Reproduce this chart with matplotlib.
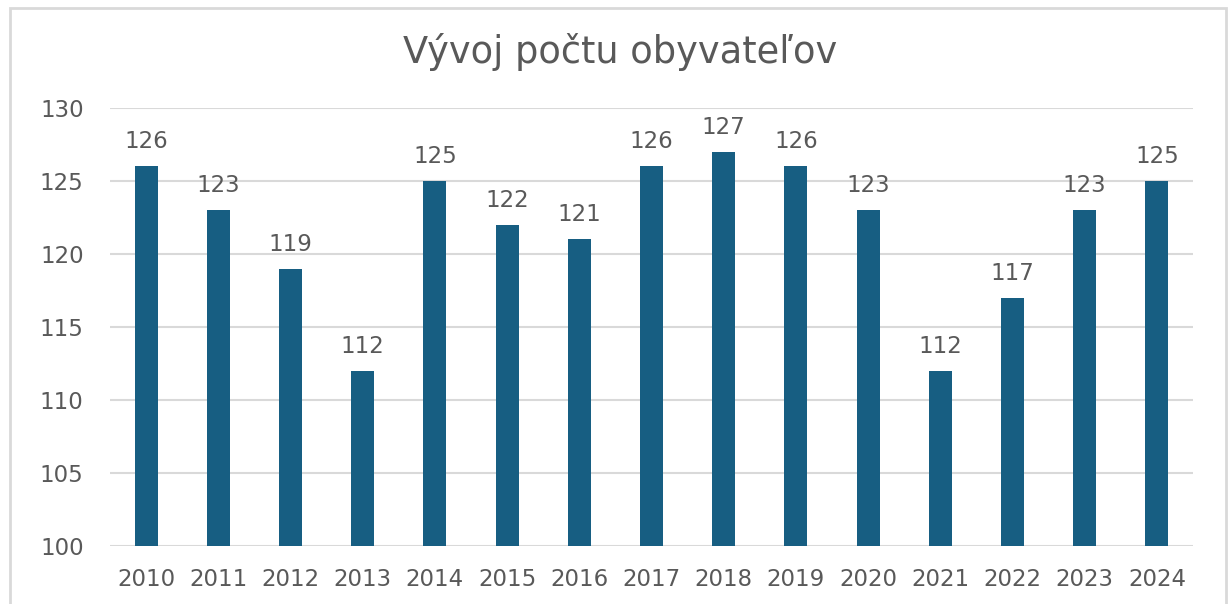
import matplotlib
matplotlib.use("Agg")
import matplotlib.pyplot as plt
from matplotlib.patches import Rectangle

years = ["2010", "2011", "2012", "2013", "2014", "2015", "2016", "2017",
         "2018", "2019", "2020", "2021", "2022", "2023", "2024"]
values = [126, 123, 119, 112, 125, 122, 121, 126, 127, 126, 123, 112, 117, 123, 125]
yticks = [100, 105, 110, 115, 120, 125, 130]

plt.rcParams['font.family'] = ['DejaVu Sans']
W, H = 1230, 604
fig = plt.figure(figsize=(W / 100, H / 100), dpi=100)
ax = fig.add_axes([110 / W, 1 - 546 / H, (1193 - 110) / W, (546 - 108) / H])

bar_color = "#175E82"
text_color = "#595959"
x = list(range(len(years)))
ax.bar(x, [v - 100 for v in values], bottom=100, width=0.32, color=bar_color, zorder=3)
for xi, v in zip(x, values):
    ax.annotate(str(v), (xi, v), xytext=(0, 13), textcoords="offset points",
                ha="center", va="baseline", fontsize=16.5, color=text_color)

ax.set_xlim(-0.5, len(years) - 0.5)
ax.set_ylim(100, 130)
ax.set_yticks(yticks)
ax.set_xticks(x)
ax.set_xticklabels(years)
ax.tick_params(axis="both", length=0, labelsize=16.5, colors=text_color)
ax.tick_params(axis="y", pad=19)
ax.tick_params(axis="x", pad=16)
ax.grid(axis="y", color="#D9D9D9", linewidth=1.5, zorder=0)
for s in ax.spines.values():
    s.set_visible(False)

fig.text(620 / W, 1 - 63 / H, "Vývoj počtu obyvateľov", ha="center", va="baseline",
         fontsize=26.5, color=text_color)

fig.patches.append(Rectangle((10 / W, -0.05), (1226 - 10) / W, 1 - 8 / H + 0.05,
                             transform=fig.transFigure, fill=False,
                             edgecolor="#D9D9D9", linewidth=2))

fig.savefig("out.png", dpi=100)
